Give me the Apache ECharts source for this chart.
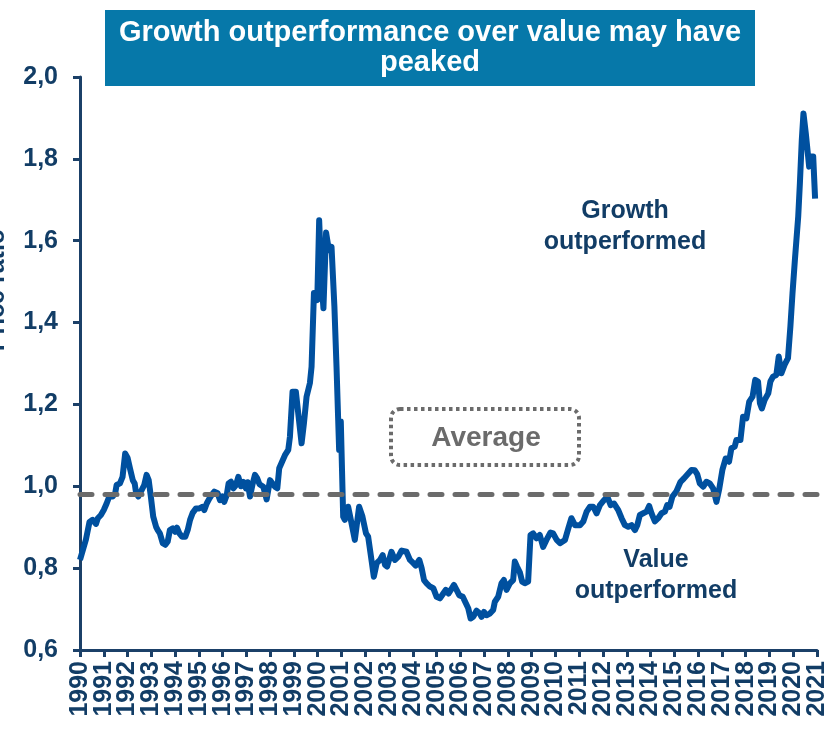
<!DOCTYPE html>
<html>
<head>
<meta charset="utf-8">
<script src="https://cdn.jsdelivr.net/npm/echarts@6/dist/echarts.min.js"></script>
<style>
  html, body { margin: 0; padding: 0; background: #fff; }
  #chart { width: 832px; height: 730px; }
</style>
</head>
<body>
<div id="chart"></div>
<script>
// time in fractional years
const years = [
  1990.00, 1990.08, 1990.25, 1990.40, 1990.53, 1990.67, 1990.75, 1990.88, 1991.00, 1991.12,
  1991.23, 1991.37, 1991.48, 1991.54, 1991.68, 1991.79, 1991.90, 1992.00, 1992.10, 1992.22,
  1992.30, 1992.35, 1992.45, 1992.56, 1992.70, 1992.80, 1992.89, 1992.98, 1993.08, 1993.20,
  1993.27, 1993.36, 1993.48, 1993.59, 1993.69, 1993.78, 1993.90, 1994.00, 1994.08, 1994.18,
  1994.29, 1994.43, 1994.53, 1994.63, 1994.74, 1994.88, 1995.02, 1995.16, 1995.23, 1995.33,
  1995.44, 1995.54, 1995.65, 1995.72, 1995.79, 1995.89, 1996.00, 1996.07, 1996.17, 1996.25,
  1996.35, 1996.45, 1996.56, 1996.66, 1996.77, 1996.87, 1996.98, 1997.05, 1997.15, 1997.25,
  1997.36, 1997.45, 1997.55, 1997.71, 1997.85, 1997.99, 1998.06, 1998.20, 1998.30, 1998.38,
  1998.50, 1998.62, 1998.76, 1998.83, 1998.94, 1999.08, 1999.18, 1999.32, 1999.42, 1999.53,
  1999.67, 1999.74, 1999.84, 1999.98, 2000.06, 2000.16, 2000.24, 2000.35, 2000.47, 2000.58,
  2000.70, 2000.79, 2000.86, 2000.90, 2000.97, 2001.07, 2001.14, 2001.28, 2001.42, 2001.56,
  2001.74, 2001.88, 2002.03, 2002.12, 2002.27, 2002.36, 2002.48, 2002.62, 2002.73, 2002.83,
  2002.92, 2003.10, 2003.25, 2003.39, 2003.53, 2003.73, 2003.88, 2004.02, 2004.12, 2004.27,
  2004.37, 2004.47, 2004.58, 2004.72, 2004.86, 2005.00, 2005.14, 2005.28, 2005.39, 2005.50,
  2005.60, 2005.73, 2005.84, 2005.95, 2006.10, 2006.23, 2006.33, 2006.43, 2006.55, 2006.68,
  2006.82, 2006.89, 2006.99, 2007.10, 2007.24, 2007.38, 2007.45, 2007.59, 2007.73, 2007.83,
  2007.94, 2008.08, 2008.22, 2008.29, 2008.38, 2008.50, 2008.60, 2008.71, 2008.85, 2008.95,
  2009.06, 2009.20, 2009.34, 2009.48, 2009.62, 2009.79, 2009.90, 2010.05, 2010.19, 2010.40,
  2010.54, 2010.67, 2010.82, 2011.03, 2011.17, 2011.31, 2011.45, 2011.59, 2011.73, 2011.87,
  2012.04, 2012.18, 2012.32, 2012.46, 2012.64, 2012.78, 2012.92, 2013.06, 2013.20, 2013.34,
  2013.44, 2013.55, 2013.69, 2013.83, 2013.94, 2014.04, 2014.18, 2014.32, 2014.46, 2014.60,
  2014.70, 2014.80, 2014.92, 2015.08, 2015.26, 2015.40, 2015.54, 2015.72, 2015.86, 2015.96,
  2016.07, 2016.21, 2016.35, 2016.49, 2016.63, 2016.77, 2016.88, 2017.02, 2017.16, 2017.30,
  2017.40, 2017.54, 2017.61, 2017.78, 2017.89, 2018.03, 2018.15, 2018.29, 2018.40, 2018.52,
  2018.60, 2018.68, 2018.80, 2018.95, 2019.04, 2019.15, 2019.29, 2019.39, 2019.50, 2019.64,
  2019.78, 2019.88, 2019.97, 2020.07, 2020.21, 2020.28, 2020.36, 2020.43, 2020.53, 2020.67,
  2020.74, 2020.84, 2020.92
];

// growth / value price ratio
const ratio = [
  0.820, 0.820, 0.870, 0.913, 0.918, 0.908, 0.922, 0.930, 0.942, 0.958,
  0.975, 0.975, 0.983, 1.003, 1.007, 1.023, 1.080, 1.070, 1.044, 1.015,
  1.007, 0.987, 0.975, 0.987, 1.003, 1.028, 1.015, 0.975, 0.926, 0.901,
  0.893, 0.885, 0.861, 0.857, 0.865, 0.893, 0.897, 0.889, 0.899, 0.885,
  0.877, 0.877, 0.893, 0.918, 0.935, 0.946, 0.946, 0.950, 0.942, 0.958,
  0.970, 0.979, 0.987, 0.991, 0.983, 0.966, 0.975, 0.962, 0.978, 1.007,
  1.011, 0.995, 1.003, 1.023, 1.000, 1.011, 0.995, 1.010, 0.975, 1.003,
  1.028, 1.020, 1.005, 0.999, 0.968, 1.015, 1.019, 0.999, 0.995, 1.044,
  1.060, 1.076, 1.089, 1.121, 1.231, 1.231, 1.178, 1.105, 1.154, 1.219,
  1.252, 1.292, 1.472, 1.455, 1.650, 1.500, 1.435, 1.620, 1.577, 1.585,
  1.440, 1.292, 1.162, 1.089, 1.158, 0.926, 0.918, 0.950, 0.910, 0.869,
  0.950, 0.926, 0.885, 0.877, 0.816, 0.779, 0.812, 0.820, 0.832, 0.808,
  0.804, 0.840, 0.820, 0.828, 0.843, 0.840, 0.820, 0.812, 0.806, 0.820,
  0.800, 0.771, 0.763, 0.755, 0.751, 0.730, 0.726, 0.738, 0.747, 0.738,
  0.747, 0.759, 0.747, 0.734, 0.730, 0.714, 0.702, 0.677, 0.682, 0.696,
  0.689, 0.681, 0.693, 0.685, 0.689, 0.698, 0.718, 0.730, 0.763, 0.771,
  0.747, 0.763, 0.771, 0.816, 0.804, 0.790, 0.767, 0.763, 0.767, 0.881,
  0.885, 0.873, 0.881, 0.852, 0.869, 0.887, 0.885, 0.869, 0.861, 0.869,
  0.897, 0.922, 0.905, 0.905, 0.914, 0.938, 0.950, 0.950, 0.934, 0.954,
  0.966, 0.975, 0.954, 0.958, 0.942, 0.922, 0.905, 0.901, 0.905, 0.893,
  0.905, 0.930, 0.934, 0.938, 0.952, 0.934, 0.914, 0.922, 0.934, 0.938,
  0.954, 0.950, 0.975, 0.987, 1.011, 1.019, 1.028, 1.040, 1.039, 1.030,
  1.007, 0.999, 1.011, 1.007, 0.995, 0.962, 0.991, 1.040, 1.068, 1.060,
  1.093, 1.097, 1.113, 1.113, 1.170, 1.166, 1.207, 1.219, 1.260, 1.256,
  1.203, 1.190, 1.211, 1.227, 1.256, 1.268, 1.272, 1.317, 1.276, 1.297,
  1.313, 1.390, 1.472, 1.553, 1.659, 1.740, 1.846, 1.911, 1.862, 1.781,
  1.806, 1.806, 1.703
];

// x tick labels, one per year
const yearLabels = [
  "1990", "1991", "1992", "1993", "1994", "1995", "1996", "1997",
  "1998", "1999", "2000", "2001", "2002", "2003", "2004", "2005",
  "2006", "2007", "2008", "2009", "2010", "2011", "2012", "2013",
  "2014", "2015", "2016", "2017", "2018", "2019", "2020", "2021"
];

const average = 0.985;
const yTicks = [0.6, 0.8, 1.0, 1.2, 1.4, 1.6, 1.8, 2.0];

const navy = "#123d66";
const font = "Liberation Sans, Arial, sans-serif";

let chart = echarts.init(document.getElementById("chart"), null, { renderer: "canvas" });

let option = {
  animation: false,
  grid: {
    left: 80,
    right: 15,
    top: 77,
    bottom: 80,
    containLabel: false,
  },
  xAxis: [
    {
      // value axis: positions the line, draws axis line and ticks
      type: "value",
      min: Number(yearLabels[0]),
      max: Number(yearLabels[yearLabels.length - 1]),
      interval: 1,
      axisLine: { lineStyle: { color: "#1b4068", width: 3 } },
      axisTick: { show: true, length: 7, lineStyle: { color: "#1b4068", width: 3 } },
      splitLine: { show: false },
      axisLabel: { show: false },
    },
    {
      // category axis just for the year labels (all shown)
      type: "category",
      position: "bottom",
      boundaryGap: false,
      data: yearLabels,
      axisLine: { show: false },
      axisTick: { show: false },
      splitLine: { show: false },
      axisLabel: {
        interval: 0,
        rotate: 90,
        margin: 11,
        color: navy,
        fontFamily: font,
        fontWeight: "bold",
        fontSize: 25,
      },
    },
  ],
  yAxis: {
    type: "value",
    min: yTicks[0],
    max: yTicks[yTicks.length - 1],
    interval: 0.2,
    axisLine: { show: true, lineStyle: { color: "#1b4068", width: 3 } },
    axisTick: { show: true, length: 7, lineStyle: { color: "#1b4068", width: 3 } },
    splitLine: { show: false },
    axisLabel: {
      margin: 22,
      color: navy,
      fontFamily: font,
      fontWeight: "bold",
      fontSize: 25,
      formatter: function (v) {
        return v.toFixed(1).replace(".", ",");
      },
    },
  },
  series: [
    {
      name: "Price ratio",
      type: "line",
      xAxisIndex: 0,
      showSymbol: false,
      symbol: "none",
      lineStyle: { color: "#00509f", width: 6, join: "round" },
      data: years.map(function (y, i) {
        return [y, ratio[i]];
      }),
      markLine: {
        silent: true,
        symbol: "none",
        label: { show: false },
        lineStyle: {
          color: "#6b6b6b",
          width: 5,
          type: [12, 13],
          cap: "round",
        },
        data: [{ yAxis: average }],
      },
    },
  ],
  graphic: [
    // title box
    {
      type: "rect",
      left: 105,
      top: 10,
      shape: { width: 650, height: 76 },
      style: { fill: "#0678a9" },
    },
    {
      type: "text",
      x: 430,
      y: 48,
      style: {
        text: "Growth outperformance over value may have\npeaked",
        fill: "#fff",
        font: "bold 29px " + font,
        align: "center",
        verticalAlign: "middle",
        lineHeight: 30,
      },
    },
    // y axis name, mostly cut off at the left edge
    {
      type: "text",
      x: -3,
      y: 290,
      rotation: Math.PI / 2,
      style: {
        text: "Price ratio",
        fill: navy,
        font: "bold 25px " + font,
        align: "center",
        verticalAlign: "middle",
      },
    },
    {
      type: "text",
      x: 625,
      y: 227,
      style: {
        text: "Growth\noutperformed",
        fill: navy,
        font: "bold 25px " + font,
        align: "center",
        verticalAlign: "middle",
        lineHeight: 31,
      },
    },
    {
      type: "text",
      x: 656,
      y: 576,
      style: {
        text: "Value\noutperformed",
        fill: navy,
        font: "bold 25px " + font,
        align: "center",
        verticalAlign: "middle",
        lineHeight: 31,
      },
    },
    // average callout
    {
      type: "rect",
      shape: { x: 391, y: 409, width: 188, height: 56, r: 9 },
      style: {
        fill: "none",
        stroke: "#6b6b6b",
        lineWidth: 4,
        lineDash: [3.5, 3.5],
      },
    },
    {
      type: "text",
      x: 486,
      y: 438,
      style: {
        text: "Average",
        fill: "#6b6b6b",
        font: "bold 28px " + font,
        align: "center",
        verticalAlign: "middle",
      },
    },
  ],
};

chart.setOption(option);
</script>
</body>
</html>
